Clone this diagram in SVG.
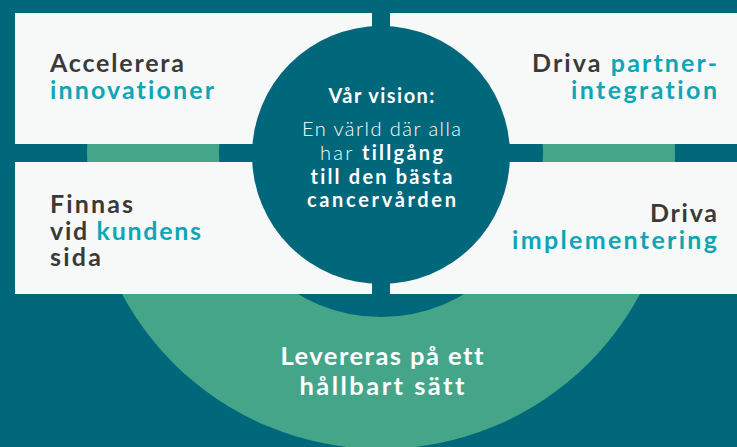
<svg xmlns="http://www.w3.org/2000/svg" width="737" height="447" viewBox="0 0 737 447">
<defs>
<clipPath id="lower"><rect x="0" y="144" width="737" height="303"/></clipPath>
</defs>
<style>
text{font-variant-ligatures:none;font-feature-settings:"liga" 0,"dlig" 0,"clig" 0}
.bg{fill:#01677B}
.green{fill:#44A589}
.box{fill:#F7F9F9}
.t{font-family:Lato,"Noto Sans",sans-serif;font-weight:700;font-size:25px}
.dk{fill:#3A3A39}
.cy{fill:#0CA6B7}
.w{fill:#FFFFFF}
.c{font-family:Lato,"Noto Sans",sans-serif;font-size:20px;text-anchor:middle}
.lt{font-weight:300}
.bd{font-weight:700}
.b{font-family:Lato,"Noto Sans",sans-serif;font-weight:700;font-size:25.5px;text-anchor:middle}
</style>
<rect class="bg" x="0" y="0" width="737" height="447"/>
<g id="ring" clip-path="url(#lower)">
<circle class="green" cx="381" cy="155" r="294"/>
<circle class="bg" cx="381" cy="155" r="162"/>
</g>
<g id="connectors">
<rect class="bg" x="372" y="0" width="18" height="294"/>
</g>
<g id="box-tl">
<rect class="box" x="15" y="13" width="357" height="131"/>
</g>
<g id="box-tr">
<rect class="box" x="390" y="13" width="347" height="131"/>
</g>
<g id="box-bl">
<rect class="box" x="15" y="162" width="357" height="132"/>
</g>
<g id="box-br">
<rect class="box" x="390" y="162" width="347" height="132"/>
</g>
<g id="vision">
<circle class="bg" cx="381" cy="155" r="129"/>
<text class="c w bd" x="381.5" y="103" font-size="19" textLength="106" lengthAdjust="spacing">Vår vision:</text>
<text class="c w lt" x="381.5" y="136" textLength="159" lengthAdjust="spacing">En värld där alla</text>
<text class="c w" x="381.5" y="159.5" textLength="123" lengthAdjust="spacing"><tspan class="lt">har </tspan><tspan class="bd">tillgång</tspan></text>
<text class="c w bd" x="381.5" y="183.5" textLength="142" lengthAdjust="spacing">till den bästa</text>
<text class="c w bd" x="381.5" y="207" textLength="149" lengthAdjust="spacing">cancervården</text>
</g>
<g id="text-tl">
<text class="t dk" x="50" y="72" textLength="134" lengthAdjust="spacing">Accelerera</text>
<text class="t cy" x="50" y="99" textLength="164" lengthAdjust="spacing">innovationer</text>
</g>
<g id="text-tr">
<text class="t" x="717" y="71.5" text-anchor="end" textLength="185" lengthAdjust="spacing"><tspan class="dk">Driva </tspan><tspan class="cy">partner-</tspan></text>
<text class="t cy" x="717" y="99" text-anchor="end" textLength="146" lengthAdjust="spacing">integration</text>
</g>
<g id="text-bl">
<text class="t dk" x="50" y="212.5" textLength="83" lengthAdjust="spacing">Finnas</text>
<text class="t" x="50" y="239.5" textLength="151" lengthAdjust="spacing"><tspan class="dk">vid </tspan><tspan class="cy">kundens</tspan></text>
<text class="t dk" x="50" y="266" textLength="51" lengthAdjust="spacing">sida</text>
</g>
<g id="text-br">
<text class="t dk" x="717" y="222" text-anchor="end" textLength="67" lengthAdjust="spacing">Driva</text>
<text class="t cy" x="717" y="249" text-anchor="end" textLength="205" lengthAdjust="spacing">implementering</text>
</g>
<g id="text-bottom">
<text class="b w" x="382" y="365" textLength="203" lengthAdjust="spacing">Levereras på ett</text>
<text class="b w" x="382" y="395" textLength="165" lengthAdjust="spacing">hållbart sätt</text>
</g>
</svg>
